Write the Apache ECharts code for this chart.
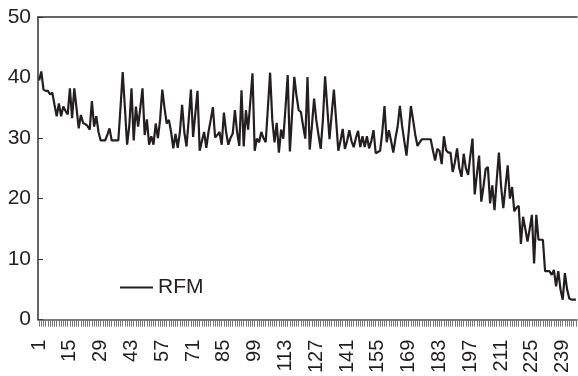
<!DOCTYPE html>
<html>
<head>
<meta charset="utf-8">
<script src="https://cdn.jsdelivr.net/npm/echarts@6/dist/echarts.min.js"></script>
<style>
html,body{margin:0;padding:0;background:#fff;}
#chart{width:578px;height:376px;}
</style>
</head>
<body>
<div id="chart"></div>
<script>
var seriesName = "RFM";
var yTicks = [0, 10, 20, 30, 40, 50];
var rfmValues = [
  39.5, 41, 38, 37.8, 37.8, 37.2, 37.5, 35.5, 33.6, 35.7,
  33.6, 35.2, 34.5, 33.9, 38.2, 33.3, 38.2, 35, 31.6, 33.8,
  32.5, 32.3, 32.0, 31.4, 36.1, 31.9, 33.6, 31.0, 29.6, 29.6,
  29.6, 30.5, 31.6, 29.6, 29.6, 29.6, 29.6, 35, 40.9, 35,
  28.9, 32, 38.2, 29.6, 35.2, 31.9, 35, 38.2, 30.5, 33.1,
  28.9, 30.3, 28.9, 32.4, 30.0, 33, 38.0, 35, 32.4, 33,
  31.0, 28.3, 30.7, 28.4, 31, 35.5, 31, 28.6, 33, 38.0,
  30.2, 34, 37.8, 27.9, 29.5, 31.0, 28.4, 31, 33, 35.1,
  30.1, 30.5, 31.0, 28.9, 34.2, 31, 28.9, 30, 30.7, 34.6,
  31, 28.7, 37.9, 28.6, 34.6, 31.4, 36, 40.7, 27.9, 29.9,
  29.3, 31.0, 30, 29.3, 35, 40.8, 33, 29.3, 32.5, 27.6,
  31.4, 29.9, 35, 40.4, 27.8, 34, 40.1, 37, 34.6, 34.3,
  32, 29.9, 40.1, 28.1, 32, 36.5, 33, 30.5, 28.2, 33,
  40.2, 35, 29.8, 34, 38, 33, 27.9, 29.5, 31.5, 28.2,
  29.5, 31.3, 29.5, 28.5, 30, 31.2, 28.5, 30.3, 28.5, 30.3,
  28.3, 29.5, 31.3, 27.5, 27.7, 27.9, 31, 35.3, 29.3, 31.3,
  29.5, 27.6, 30, 32.0, 35.3, 32, 29.5, 27.1, 31, 35.3,
  33, 30.5, 28.7, 29.3, 29.8, 29.8, 29.8, 29.8, 29.8, 28,
  26.3, 28.2, 27.9, 25.7, 30.3, 28, 27.6, 27.6, 24.4, 26,
  28.3, 25, 23.6, 27.4, 25, 23.9, 27, 29.9, 20.7, 24,
  27.1, 19.5, 22, 24.9, 25.2, 19.2, 22.2, 18.1, 23, 27.6,
  22, 18.4, 22, 25.5, 20.0, 21.9, 17.9, 18.5, 18.8, 12.5,
  17.0, 15, 12.9, 15, 17.3, 9.3, 17.3, 13.2, 13.2, 13.2,
  8.0, 8.0, 8.0, 7.4, 8.2, 5.5, 8, 5.0, 3.3, 7.7,
  5, 3.5, 3.3, 3.3, 3.3
];
var categories = [];
for (var k = 1; k <= rfmValues.length; k++) categories.push(String(k));

var FONT = "Liberation Sans";
var INK = "#231f20";
var chart = echarts.init(document.getElementById('chart'), null, {renderer: 'canvas'});
chart.setOption({
  animation: false,
  backgroundColor: '#ffffff',
  textStyle: {fontFamily: FONT, color: INK},
  grid: {left: 38, right: 1, top: 17, bottom: 54, containLabel: false},
  legend: {
    left: 115, top: 272,
    icon: 'rect',
    itemWidth: 33, itemHeight: 2, itemGap: 10,
    textStyle: {fontFamily: FONT, fontSize: 21, color: INK},
    data: [seriesName]
  },
  xAxis: [{
    type: 'category',
    data: categories,
    boundaryGap: true,
    axisLine: {show: true, lineStyle: {color: '#555', width: 1.5}},
    axisTick: {show: true, interval: 0, alignWithLabel: true, length: 7, lineStyle: {color: '#777', width: 1}},
    axisLabel: {interval: 13, rotate: 90, margin: 20, fontSize: 20, fontFamily: FONT, color: INK},
    splitLine: {show: false}
  }, {
    type: 'category',
    data: categories,
    position: 'top',
    axisLine: {show: true, lineStyle: {color: '#333', width: 1.5}},
    axisTick: {show: false},
    axisLabel: {show: false},
    splitLine: {show: false}
  }],
  yAxis: {
    type: 'value',
    min: yTicks[0], max: yTicks[yTicks.length - 1], interval: 10,
    axisLine: {show: true, lineStyle: {color: '#333', width: 1.5}},
    axisTick: {show: true, inside: true, length: 5, lineStyle: {color: '#333'}},
    axisLabel: {fontSize: 21, fontFamily: FONT, color: INK, margin: 7},
    splitLine: {show: false}
  },
  series: [{
    name: seriesName,
    type: 'line',
    data: rfmValues,
    xAxisIndex: 0,
    symbol: 'none',
    showSymbol: false,
    lineStyle: {color: INK, width: 2.2},
    itemStyle: {color: INK}
  }]
});
</script>
</body>
</html>
